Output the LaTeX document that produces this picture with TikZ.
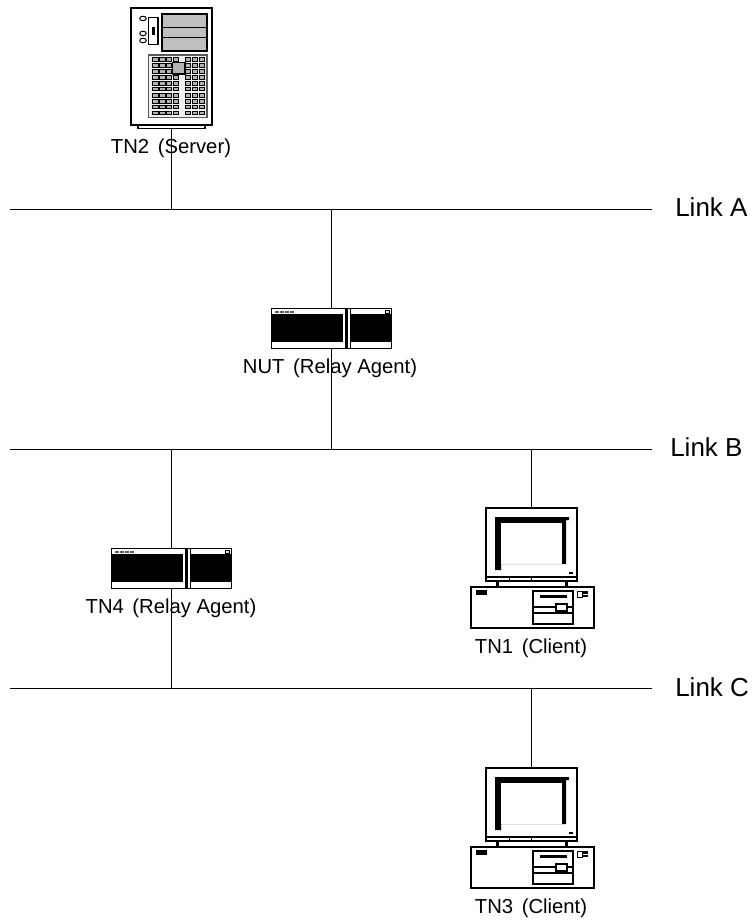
\documentclass[tikz,border=0pt]{standalone}
\usepackage{fontspec}
\setmainfont{Liberation Sans}
\newcommand{\gp}{\kern2.2pt(}
\tikzset{
  x=0.75pt,y=-0.75pt,
  wire/.style={draw=black,line width=0.75pt},
  devline/.style={draw=black,line width=0.9pt},
  thick box/.style={draw=black,line width=1.5pt},
  body/.style={inner sep=0pt,outer sep=0pt,rectangle},
  lbl/.style={inner sep=0pt,anchor=base,font=\fontsize{15.2pt}{17pt}\selectfont,text=black},
  linklbl/.style={inner sep=0pt,anchor=base west,font=\fontsize{19.5pt}{22pt}\selectfont,text=black},
  router/.pic={
    \node[body,minimum width=90.75pt,minimum height=30.75pt] (-body) at (0,0) {};
    \fill[black] (-60.5,-20.5) rectangle (60.5,20.5);
    \fill[white] (-59.5,-19.5) rectangle (11,-14.5);
    \fill[white] (-59.5,13.5) rectangle (11,19.5);
    \fill[white] (19.5,-19.5) rectangle (59.5,-14.5);
    \fill[white] (19.5,13.5) rectangle (59.5,19.5);
    \fill[white] (11,-19.5) rectangle (13.5,19.5);
    \fill[white] (16.5,-19.5) rectangle (18.7,19.5);
    \foreach \i in {0,1,2,3}{\fill[black!65] (-57+\i*5.2,-18) rectangle (-53+\i*5.2,-16);}
    \draw[black,line width=0.6pt,fill=black!15] (53.5,-18.5) rectangle (58,-15);
  },
  client/.pic={
    % origin: centre of the monitor top edge
    \node[body,minimum width=68.25pt,minimum height=54.75pt] (-body) at (0,36.5) {};
    \draw[thick box,fill=white] (-45.5,0) rectangle (45.5,73);
    \draw[devline] (-45.5,69) -- (45.5,69);
    \draw[black,line width=0.6pt] (-22.5,69) -- (-22.5,73) (0,69) -- (0,73);
    \fill[black] (-36.5,9) -- (37.5,9) -- (37.5,12) -- (34.5,12) -- (34.5,56)
       -- (-30.5,56) -- (-30.5,62) -- (-36.5,62) -- cycle;
    \fill[white] (-30.5,15) rectangle (30.5,55.5);
    \fill[black] (37,63.5) rectangle (41,66);
    \draw[devline] (-34.5,73) -- (-34.5,79) (-33,73) -- (-33,79);
    \draw[devline] (34,73) -- (34,79) (35.5,73) -- (35.5,79);
    \draw[thick box,fill=white] (-60.5,79) rectangle (62.5,120);
    \fill[black] (-55.5,82) rectangle (-44.5,87);
    \draw[devline] (1.5,83) rectangle (41.5,116);
    \draw[devline] (1.5,99) -- (41.5,99) (1.5,105) -- (41.5,105);
    \fill[black] (8.5,87) rectangle (35,90);
    \draw[devline,fill=white] (24.5,96) rectangle (35.5,103);
    \draw[black,line width=0.6pt] (45.5,83) rectangle (50.5,89);
    \fill[black] (51.5,83) rectangle (56.5,85.5);
    \fill[black] (51.5,86.5) rectangle (56.5,89);
  }
}
\begin{document}
\begin{tikzpicture}
\useasboundingbox (0,0) rectangle (752,920);

% links
\coordinate (linkAw) at (10,209);  \coordinate (linkAe) at (652,209);
\coordinate (linkBw) at (10,449);  \coordinate (linkBe) at (652,449);
\coordinate (linkCw) at (10,688);  \coordinate (linkCe) at (652,688);

% server
\node[body,minimum width=60.75pt,minimum height=87.75pt,thick box,fill=white] (tn2) at (171.5,66.5) {};
\draw[devline] (138,125) rectangle (205,128.5);
\coordinate (tn2foot) at (171.5,128.5);
\draw[devline,fill=black!25] (162,14) rectangle (207,51);
\draw[devline] (162,27.5) -- (207,27.5) (162,37.5) -- (207,37.5);
\draw[devline] (148.5,17.5) rectangle (158,44.5);
\fill[black] (152,27) rectangle (155,35);
\draw[black,line width=0.7pt] (143,18.5) circle[x radius=3.3,y radius=2.3];
\draw[black,line width=0.7pt] (143,33.5) circle[x radius=3.3,y radius=2.3];
\draw[black,line width=0.7pt] (143,40.5) circle[x radius=3.3,y radius=2.3];
\draw[draw=black!65,line width=1.1pt,fill=black!6] (148.5,55) rectangle (207,117.5);
\foreach \cy in {57.5,63.5,69.5,75.5,81.5,87,93.5,99.5,105,111}{
  \foreach \cx in {152.5,159.5,166,173,185.3,192,199}{
    \draw[black,line width=0.6pt,fill=black!30] (\cx,\cy) rectangle +(5.5,3.6);
  }
}
\draw[black,line width=0.8pt,fill=black!30] (172.7,62.7) rectangle (185,74);

% routers
\pic (nut) at (331.5,328.5) {router};
\pic (tn4) at (171.5,568.5) {router};

% clients
\pic (tn1) at (531.5,508) {client};
\pic (tn3) at (531.5,768) {client};

% link lines
\draw[wire] (linkAw) -- (linkAe);
\draw[wire] (linkBw) -- (linkBe);
\draw[wire] (linkCw) -- (linkCe);

% connectors
\draw[wire] (tn2foot) -- (tn2foot |- linkAw);
\draw[wire] (331.5,209) -- (nut-body.north);
\draw[wire] (nut-body.south) -- (nut-body.south |- linkBw);
\draw[wire] (171.5,449) -- (tn4-body.north);
\draw[wire] (tn4-body.south) -- (tn4-body.south |- linkCw);
\draw[wire] (531.5,449) -- (531.5,508);
\draw[wire] (531.5,688) -- (531.5,768);

% labels
\node[lbl] (tn2l) at (171,154) {TN2 \gp Server)};
\node[lbl] (nutl) at (330,373) {NUT \gp Relay Agent)};
\node[lbl] (tn4l) at (171,613) {TN4 \gp Relay Agent)};
\node[lbl] (tn1l) at (531,653) {TN1 \gp Client)};
\node[lbl] (tn3l) at (531,913) {TN3 \gp Client)};
\node[linklbl] (la) at (675,216) {Link A};
\node[linklbl] (lb) at (670,456) {Link B};
\node[linklbl] (lc) at (675,696) {Link C};
\end{tikzpicture}
\end{document}
